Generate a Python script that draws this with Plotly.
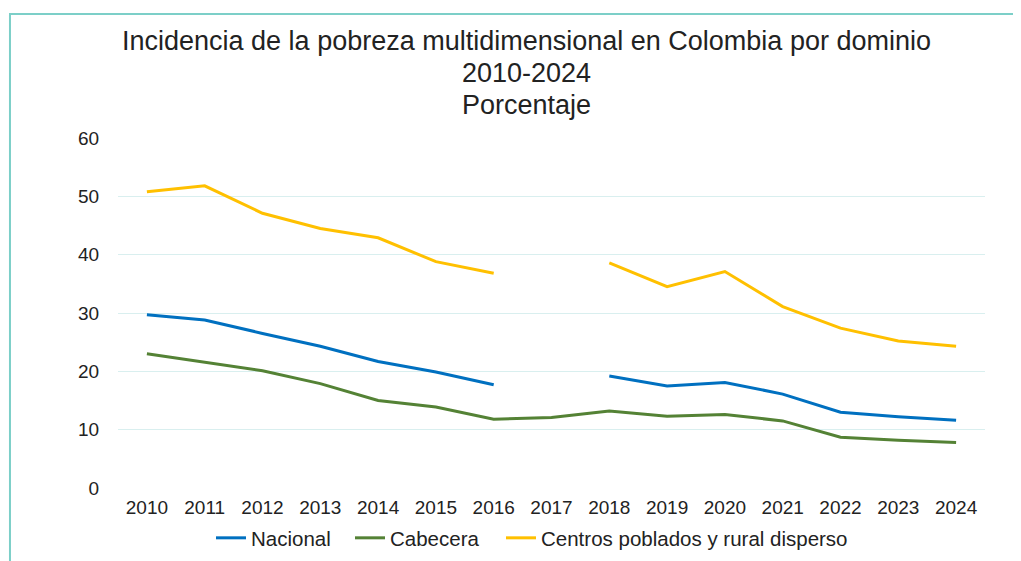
import plotly.graph_objects as go

years = [str(y) for y in range(2010, 2025)]
nacional = [29.7, 28.8, 26.5, 24.3, 21.7, 19.9, 17.7, None, 19.2, 17.5, 18.1, 16.1, 13.0, 12.2, 11.6]
cabecera = [23.0, 21.5, 20.1, 17.9, 15.0, 13.9, 11.8, 12.1, 13.2, 12.3, 12.6, 11.5, 8.7, 8.2, 7.8]
centros = [50.8, 51.8, 47.1, 44.5, 42.9, 38.8, 36.8, None, 38.6, 34.5, 37.1, 31.1, 27.4, 25.2, 24.3]
y_ticks = [0, 10, 20, 30, 40, 50, 60]
title_lines = ["Incidencia de la pobreza multidimensional en Colombia por dominio",
               "2010-2024", "Porcentaje"]

FONT = "Liberation Sans, Arial, sans-serif"
TXT = "#222222"

# page body has an 8px margin; figure is sized so that it fills the window from there
W, H = 1013, 553
L, R, T, B = 110, 36, 130, 73
PW = W - L - R
PH = H - T - B

def px(pix):
    return (pix - L) / PW

def py(pix):
    return (H - B - pix) / PH

fig = go.Figure()
series = [
    ("Nacional", nacional, "#0070C0", "legend", 203),
    ("Cabecera", cabecera, "#548235", "legend2", 342),
    ("Centros poblados y rural disperso", centros, "#FFC000", "legend3", 493),
]
legend_cfg = {}
for name, vals, color, lg, lx in series:
    fig.add_trace(go.Scatter(x=years, y=vals, mode="lines", name=name, legend=lg,
                             line=dict(color=color, width=3), connectgaps=False))
    legend_cfg[lg] = dict(orientation="h", x=px(lx), xanchor="left", y=py(530),
                          yanchor="middle", font=dict(size=20.5, color=TXT),
                          itemwidth=30, bgcolor="rgba(0,0,0,0)")

annotations = []
for txt, ycen in zip(title_lines, [33, 65, 97]):
    annotations.append(dict(text=txt, xref="paper", yref="paper",
                            x=px(518), y=py(ycen),
                            xanchor="center", yanchor="middle", showarrow=False,
                            font=dict(family=FONT, size=27, color=TXT)))

fig.update_layout(
    width=W, height=H, autosize=False,
    margin=dict(l=L, r=R, t=T, b=B, autoexpand=False),
    paper_bgcolor="white", plot_bgcolor="white",
    font=dict(family=FONT, color=TXT, size=19),
    annotations=annotations,
    xaxis=dict(type="category", range=[-0.5, 14.5], showgrid=False, zeroline=False,
               showline=False, ticks="outside", ticklen=2, tickcolor="rgba(0,0,0,0)",
               tickfont=dict(size=19, color=TXT)),
    yaxis=dict(range=[0, 60], tickvals=y_ticks, showgrid=True, gridcolor="#D9EFEF",
               gridwidth=1, zeroline=False, showline=False, ticks="outside",
               tickcolor="rgba(0,0,0,0)", ticklen=14,
               tickfont=dict(size=19, color=TXT)),
    showlegend=True,
    shapes=[dict(type="rect", xref="paper", yref="paper",
                 x0=-0.1246, x1=1.2, y0=-0.4, y1=1.354,
                 line=dict(color="#7CCFC8", width=2), fillcolor="rgba(0,0,0,0)",
                 layer="below")],
    **legend_cfg,
)

fig.write_html("out.html")
